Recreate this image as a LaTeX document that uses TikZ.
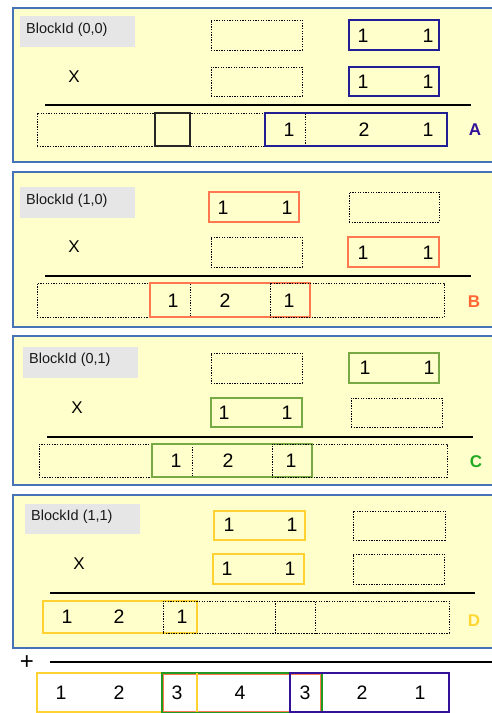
\documentclass[tikz,border=0pt]{standalone}
\usepackage{fontspec}
\setmainfont{Liberation Sans}
\definecolor{pborder}{RGB}{70,114,184}
\definecolor{pfill}{RGB}{255,255,204}
\definecolor{bgray}{RGB}{230,230,230}
\definecolor{navyA}{RGB}{34,30,150}
\definecolor{letA}{RGB}{51,17,153}
\definecolor{orgB}{RGB}{255,120,80}
\definecolor{letB}{RGB}{255,102,51}
\definecolor{grnC}{RGB}{119,170,68}
\definecolor{fgrn}{RGB}{34,153,34}
\definecolor{letC}{RGB}{34,170,34}
\definecolor{yelD}{RGB}{255,210,50}
\definecolor{letD}{RGB}{255,214,51}
\newcommand\bx[6]{\node[#1, minimum width={(#5-#3)*1pt}, minimum height={(#6-#4)*1pt}] (#2) at ({(#3+#5)/2},{(#4+#6)/2}) {};}
\tikzset{
  base/.style={rectangle, inner sep=0pt, outer sep=0pt},
  panel/.style={base, draw=pborder, fill=pfill, line width=1.4pt},
  graybox/.style={base, fill=bgray},
  dotbox/.style={base, draw=black, line width=1pt, dash pattern=on 1.3pt off 1.3pt},
  sqbox/.style={base, draw=black!85, line width=1.1pt},
  abox/.style={base, draw=navyA, line width=1.1pt},
  bbox/.style={base, draw=orgB, line width=1.2pt},
  cbox/.style={base, draw=grnC, line width=1.2pt},
  dbox/.style={base, draw=yelD, line width=1.2pt},
  fbbox/.style={base, draw=letA, line width=1.3pt},
  fgbox/.style={base, draw=fgrn, line width=1.8pt},
  num/.style={inner sep=0pt, font=\fontsize{19.5}{22}\selectfont},
  xl/.style={inner sep=0pt, font=\fontsize{17}{19}\selectfont},
  bid/.style={inner sep=0pt, anchor=west, font=\fontsize{14.5}{17}\selectfont, text=black!90},
  letter/.style={inner sep=0pt, font=\fontsize{17}{20}\selectfont\bfseries},
  plusl/.style={inner sep=0pt, font=\fontsize{24}{26}\selectfont},
  rule/.style={line width=1.5pt, black},
}
\begin{document}
\begin{tikzpicture}[x=1pt,y=-1pt]
\clip (0,0) rectangle (492,713);
\fill[white] (0,0) rectangle (492,713);
% ---------- Panel A ----------
\bx{panel}{pA}{13}{8}{505}{162}
\bx{graybox}{gA}{20}{16}{135}{47}
\node[bid] (tA) at (26,30) {BlockId (0,0)};
\node[xl] (xA) at (74,77) {X};
\bx{dotbox}{a11}{211}{20}{302}{50}
\bx{abox}{a12}{349}{20}{439}{50}
\node[num] at (363,36) {1}; \node[num] at (428,36) {1};
\bx{dotbox}{a21}{211}{67}{302}{96}
\bx{abox}{a22}{349}{67}{439}{96}
\node[num] at (363,82) {1}; \node[num] at (428,82) {1};
\coordinate (la1) at (45,105); \coordinate (la2) at (471,105);
\draw[rule] (la1) -- (la2);
\bx{dotbox}{ar1}{37}{113}{305}{146}
\bx{sqbox}{ar2}{155}{113}{190}{146}
\bx{abox}{ar3}{265}{113}{447}{146}
\node[num] at (289,130) {1}; \node[num] at (364,130) {2}; \node[num] at (428,130) {1};
\node[letter, text=letA] (LA) at (475,130) {A};
% ---------- Panel B ----------
\bx{panel}{pB}{13}{172}{505}{327}
\bx{graybox}{gB}{20}{187}{135}{218}
\node[bid] (tB) at (26,201) {BlockId (1,0)};
\node[xl] (xB) at (74,247) {X};
\bx{bbox}{b11}{209}{192}{299}{222}
\node[num] at (223,208) {1}; \node[num] at (287,208) {1};
\bx{dotbox}{b12}{349}{192}{439}{222}
\bx{dotbox}{b21}{211}{237}{302}{267}
\bx{bbox}{b22}{348}{237}{439}{267}
\node[num] at (363,253) {1}; \node[num] at (428,253) {1};
\coordinate (lb1) at (45,276); \coordinate (lb2) at (471,276);
\draw[rule] (lb1) -- (lb2);
\bx{dotbox}{br1}{37}{283}{190}{317}
\bx{bbox}{br2}{150}{283}{310}{317}
\bx{dotbox}{br3}{270}{283}{444}{317}
\node[num] at (173,301) {1}; \node[num] at (225,301) {2}; \node[num] at (289,301) {1};
\node[letter, text=letB] (LB) at (474,302) {B};
% ---------- Panel C ----------
\bx{panel}{pC}{13}{336}{505}{485}
\bx{graybox}{gC}{23}{347}{138}{378}
\node[bid] (tC) at (29,360) {BlockId (0,1)};
\node[xl] (xC) at (77,408) {X};
\bx{dotbox}{c11}{211}{353}{302}{383}
\bx{cbox}{c12}{349}{353}{439}{383}
\node[num] at (365,368) {1}; \node[num] at (429,368) {1};
\bx{cbox}{c21}{211}{398}{302}{427}
\node[num] at (224,413) {1}; \node[num] at (287,413) {1};
\bx{dotbox}{c22}{351}{398}{442}{427}
\coordinate (lc1) at (47,437); \coordinate (lc2) at (473,437);
\draw[rule] (lc1) -- (lc2);
\bx{dotbox}{cr1}{39}{444}{192}{477}
\bx{cbox}{cr2}{152}{444}{312}{477}
\bx{dotbox}{cr3}{272}{444}{447}{477}
\node[num] at (176,461) {1}; \node[num] at (228,461) {2}; \node[num] at (291,461) {1};
\node[letter, text=letC] (LC) at (476,462) {C};
% ---------- Panel D ----------
\bx{panel}{pD}{13}{495}{505}{648}
\bx{graybox}{gD}{25}{504}{140}{534}
\node[bid] (tD) at (31,517) {BlockId (1,1)};
\node[xl] (xD) at (79,564) {X};
\bx{dbox}{d11}{214}{511}{305}{540}
\node[num] at (229,525) {1}; \node[num] at (292,525) {1};
\bx{dotbox}{d12}{353}{511}{445}{540}
\bx{dbox}{d21}{213}{554}{304}{584}
\node[num] at (227,569) {1}; \node[num] at (290,569) {1};
\bx{dotbox}{d22}{353}{554}{444}{584}
\coordinate (ld1) at (50,593); \coordinate (ld2) at (475,593);
\draw[rule] (ld1) -- (ld2);
\bx{dbox}{dr1}{43}{601}{197}{633}
\bx{dotbox}{dr2}{163}{601}{449}{633}
\bx{dotbox}{dr3}{275}{601}{315}{633}
\node[num] at (67,617) {1}; \node[num] at (119,617) {2}; \node[num] at (182,617) {1};
\node[letter, text=letD] (LD) at (474,621) {D};
% ---------- Sum ----------
\node[plusl] (plus) at (27,663) {+};
\coordinate (ls1) at (50,662); \coordinate (ls2) at (500,662);
\draw[rule] (ls1) -- (ls2);
\bx{dbox}{f1}{37}{673}{197}{712}
\bx{bbox}{f2}{163}{674}{321}{712}
\bx{fgbox}{f3}{162}{673}{322}{713}
\bx{fbbox}{f4}{290}{673}{449}{712}
\draw[yelD, line width=1.2pt] (197,673) -- (197,712);
\node[num] at (61,693) {1}; \node[num] at (119,693) {2}; \node[num] at (177,693) {3};
\node[num] at (240,693) {4}; \node[num] at (305,693) {3}; \node[num] at (362,693) {2};
\node[num] at (420,693) {1};
\end{tikzpicture}
\end{document}
